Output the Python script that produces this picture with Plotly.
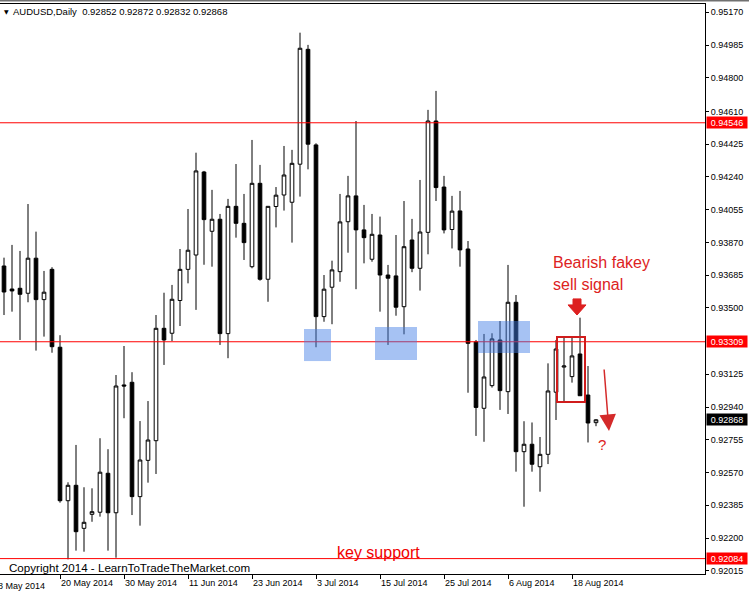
import plotly.graph_objects as go

# ---- data (AUDUSD daily) ----
opens = [0.93737, 0.93607, 0.93611, 0.93583, 0.93781, 0.93547, 0.93718, 0.93278, 0.92411, 0.92498,
         0.92255, 0.92334, 0.92346, 0.92566, 0.92343, 0.93065, 0.93080, 0.92434, 0.92639, 0.92750,
         0.93385, 0.93357, 0.93542, 0.93718, 0.93799, 0.94268, 0.93933, 0.94001, 0.93355, 0.94074,
         0.93978, 0.93733, 0.94204, 0.93662, 0.94073, 0.94138, 0.94097, 0.94312, 0.94961, 0.94421,
         0.93451, 0.93617, 0.93705, 0.93987, 0.94133, 0.93941, 0.93775, 0.93912, 0.93686, 0.93681,
         0.93507, 0.93884, 0.93724, 0.93927, 0.94556, 0.94183, 0.93943, 0.94048, 0.93833, 0.93308,
         0.92933, 0.93061, 0.93319, 0.93027, 0.93532, 0.92688, 0.92730, 0.92603, 0.92673, 0.93024,
         0.93166, 0.93112, 0.93240, 0.93008, 0.92852]
highs = [0.93784, 0.93856, 0.93822, 0.94087, 0.93931, 0.93709, 0.93730, 0.93346, 0.92515, 0.92726,
         0.92487, 0.92481, 0.92764, 0.92702, 0.93121, 0.93285, 0.93137, 0.92861, 0.92974, 0.93460,
         0.93586, 0.93630, 0.93833, 0.94059, 0.94377, 0.94274, 0.94167, 0.94031, 0.94116, 0.94313,
         0.94144, 0.94449, 0.94308, 0.94074, 0.94183, 0.94415, 0.94393, 0.95055, 0.94986, 0.94430,
         0.93686, 0.93767, 0.94144, 0.94246, 0.94556, 0.94082, 0.94031, 0.94016, 0.93743, 0.93912,
         0.94104, 0.94003, 0.94223, 0.94619, 0.94726, 0.94246, 0.94133, 0.94161, 0.93878, 0.93319,
         0.93353, 0.93357, 0.93426, 0.93743, 0.93573, 0.92860, 0.92853, 0.92771, 0.93187, 0.93319,
         0.93332, 0.93332, 0.93445, 0.93172, 0.92872]
lows = [0.93460, 0.93479, 0.93319, 0.93532, 0.93259, 0.93338, 0.93247, 0.92400, 0.92080, 0.92129,
        0.92123, 0.92292, 0.92321, 0.92129, 0.92089, 0.92877, 0.92330, 0.92270, 0.92513, 0.92562,
        0.93178, 0.93313, 0.93398, 0.93639, 0.93489, 0.93744, 0.93733, 0.93291, 0.93216, 0.93897,
        0.93771, 0.93724, 0.93654, 0.93535, 0.93955, 0.94050, 0.93869, 0.94129, 0.94283, 0.93278,
        0.93422, 0.93408, 0.93648, 0.93812, 0.93606, 0.93752, 0.93761, 0.93479, 0.93291, 0.93456,
        0.93351, 0.93702, 0.93598, 0.93803, 0.94104, 0.93921, 0.93836, 0.93733, 0.93021, 0.92777,
        0.92744, 0.93050, 0.92924, 0.92901, 0.92575, 0.92377, 0.92575, 0.92462, 0.92618, 0.92867,
        0.92974, 0.93078, 0.93003, 0.92740, 0.92832]
closes = [0.93590, 0.93596, 0.93577, 0.93781, 0.93547, 0.93589, 0.93281, 0.92411, 0.92498, 0.92236,
          0.92289, 0.92349, 0.92572, 0.92343, 0.93059, 0.93059, 0.92434, 0.92641, 0.92754, 0.93385,
          0.93319, 0.93549, 0.93718, 0.93826, 0.94274, 0.93999, 0.94001, 0.93355, 0.94074, 0.93978,
          0.93869, 0.94204, 0.93662, 0.94074, 0.94137, 0.94251, 0.94317, 0.94967, 0.94425, 0.93451,
          0.93606, 0.93715, 0.93986, 0.94133, 0.93941, 0.93897, 0.93916, 0.93686, 0.93668, 0.93504,
          0.93846, 0.93724, 0.93929, 0.94556, 0.94180, 0.93941, 0.94047, 0.93828, 0.93300, 0.92938,
          0.93110, 0.93325, 0.93033, 0.93532, 0.92688, 0.92730, 0.92617, 0.92673, 0.93031, 0.93268,
          0.93172, 0.93229, 0.93004, 0.92850, 0.92868]

x_tick_idx = [7, 15, 23, 31, 39, 47, 55, 63, 71]
x_tick_text = ["20 May 2014", "30 May 2014", "11 Jun 2014", "23 Jun 2014", "3 Jul 2014",
               "15 Jul 2014", "25 Jul 2014", "6 Aug 2014", "18 Aug 2014"]
first_tick_text = "8 May 2014"   # tick just left of the visible window

y_tick_vals = [0.95170, 0.94985, 0.94800, 0.94610, 0.94425, 0.94240, 0.94055, 0.93870, 0.93685,
               0.93500, 0.93125, 0.92940, 0.92755, 0.92570, 0.92385, 0.92200, 0.92015]
y_tick_text = ["0.95170", "0.94985", "0.94800", "0.94610", "0.94425", "0.94240", "0.94055", "0.93870",
               "0.93685", "0.93500", "0.93125", "0.92940", "0.92755", "0.92570", "0.92385", "0.92200",
               "0.92015"]

levels = [0.94546, 0.93309, 0.92084]
level_text = ["0.94546", "0.93309", "0.92084"]
bid = 0.92868
title_text = "AUDUSD,Daily  0.92852 0.92872 0.92832 0.92868"

idx = list(range(len(opens)))
FONT = "Liberation Sans"

fig = go.Figure()
fig.add_trace(go.Candlestick(
    x=idx, open=opens, high=highs, low=lows, close=closes,
    increasing=dict(line=dict(color="black", width=1), fillcolor="white"),
    decreasing=dict(line=dict(color="black", width=1), fillcolor="black"),
    whiskerwidth=0, hoverinfo="skip", showlegend=False,
))

shapes = []
for lv in levels:
    shapes.append(dict(type="line", xref="paper", x0=0, x1=1, yref="y", y0=lv, y1=lv,
                       line=dict(color="#ff0000", width=1), layer="above"))
blue_zones = [(37.5, 40.875, 0.93200, 0.93381),
              (46.375, 51.625, 0.93206, 0.93392),
              (59.25, 65.75, 0.93246, 0.93426)]
for x0, x1, y0, y1 in blue_zones:
    shapes.append(dict(type="rect", xref="x", yref="y", x0=x0, x1=x1, y0=y0, y1=y1,
                       fillcolor="rgb(66,125,230)", opacity=0.47, line=dict(width=0), layer="above"))
shapes.append(dict(type="rect", xref="x", yref="y", x0=69.125, x1=72.625, y0=0.92969, y1=0.93336,
                   line=dict(color="#d01c1c", width=2), fillcolor="rgba(0,0,0,0)", layer="above"))
ax_c, shaft_hw, head_hw = 71.625, 0.5, 1.125
y_top, y_base, y_tip = 0.93551, 0.93517, 0.93460
path = (f"M {ax_c-shaft_hw},{y_top} L {ax_c+shaft_hw},{y_top} L {ax_c+shaft_hw},{y_base} "
        f"L {ax_c+head_hw},{y_base} L {ax_c},{y_tip} L {ax_c-head_hw},{y_base} "
        f"L {ax_c-shaft_hw},{y_base} Z")
shapes.append(dict(type="path", xref="x", yref="y", path=path, fillcolor="#dd2020",
                   line=dict(color="#dd2020", width=1), layer="above"))
shapes.append(dict(type="line", xref="paper", yref="paper", x0=-0.01, x1=1.1, y0=1.006, y1=1.006,
                   line=dict(color="#707070", width=2)))

annotations = []
annotations.append(dict(text=title_text, xref="paper", yref="paper", x=0.0162, y=0.986,
                        xanchor="left", yanchor="middle", showarrow=False,
                        font=dict(family=FONT, size=9.5, color="black")))
annotations.append(dict(text="▼", xref="paper", yref="paper", x=0.003, y=0.986,
                        xanchor="left", yanchor="middle", showarrow=False,
                        font=dict(family="DejaVu Sans", size=6, color="black")))
for lv, t in zip(levels, level_text):
    annotations.append(dict(text=t, xref="paper", yref="y", x=1.0, y=lv, xanchor="left",
                            yanchor="middle", showarrow=False, bgcolor="#ff0000", width=40,
                            height=11, borderpad=0, xshift=1,
                            font=dict(family=FONT, size=9, color="white")))
annotations.append(dict(text=f"{bid:.5f}", xref="paper", yref="y", x=1.0, y=bid, xanchor="left",
                        yanchor="middle", showarrow=False, bgcolor="black", width=40, height=11,
                        borderpad=0, xshift=1, font=dict(family=FONT, size=9, color="white")))
annotations.append(dict(text=first_tick_text, xref="paper", yref="paper", x=-0.0057, y=0,
                        xanchor="left", yanchor="top", yshift=-5, xshift=0, showarrow=False,
                        font=dict(family=FONT, size=9, color="black")))
annotations.append(dict(text="Copyright 2014 - LearnToTradeTheMarket.com", xref="paper", yref="paper",
                        x=0.0095, y=0.011, xanchor="left", yanchor="middle", showarrow=False,
                        font=dict(family=FONT, size=11.6, color="black")))
annotations.append(dict(text="key support", xref="x", yref="y", x=46.84, y=0.92121,
                        xanchor="center", yanchor="middle", showarrow=False,
                        font=dict(family=FONT, size=16, color="#f00000")))
annotations.append(dict(text="Bearish fakey", xref="x", yref="y", x=68.4, y=0.93754,
                        xanchor="left", yanchor="middle", showarrow=False,
                        font=dict(family=FONT, size=16, color="#dd2222")))
annotations.append(dict(text="sell signal", xref="x", yref="y", x=68.4, y=0.93634,
                        xanchor="left", yanchor="middle", showarrow=False,
                        font=dict(family=FONT, size=16, color="#dd2222")))
annotations.append(dict(text="", x=75.625, y=0.92805, xref="x", yref="y",
                        ax=75.0, ay=0.93161, axref="x", ayref="y", showarrow=True,
                        arrowhead=2, arrowsize=2.2, arrowwidth=1.5, arrowcolor="#d42a2a"))
annotations.append(dict(text="?", xref="x", yref="y", x=74.69, y=0.92731, showarrow=False,
                        xanchor="center", yanchor="middle",
                        font=dict(family=FONT, size=15, color="#dd2222")))

fig.update_layout(
    width=749, height=591,
    margin=dict(l=0, r=44, t=4, b=17),
    paper_bgcolor="white", plot_bgcolor="white",
    boxgap=0.35,
    showlegend=False,
    xaxis=dict(range=[-0.5, 87.625], rangeslider=dict(visible=False), showgrid=False,
               zeroline=False, showline=True, linecolor="black", linewidth=1, mirror=True,
               tickmode="array", tickvals=x_tick_idx, ticktext=x_tick_text,
               ticks="outside", ticklen=4, tickcolor="black", tickwidth=1,
               ticklabelposition="outside right",
               tickfont=dict(family=FONT, size=9, color="black"), fixedrange=True),
    yaxis=dict(side="right", range=[0.91997, 0.95217], showgrid=False, zeroline=False,
               showline=True, linecolor="black", linewidth=1,
               tickmode="array", tickvals=y_tick_vals, ticktext=y_tick_text,
               ticks="outside", ticklen=3, tickcolor="black",
               tickfont=dict(family=FONT, size=9, color="black"), fixedrange=True),
    shapes=shapes,
    annotations=annotations,
)

fig.write_html("out.html", config={"displayModeBar": False, "staticPlot": True},
               post_script="document.body.style.margin='0px';document.body.style.overflow='hidden';")
